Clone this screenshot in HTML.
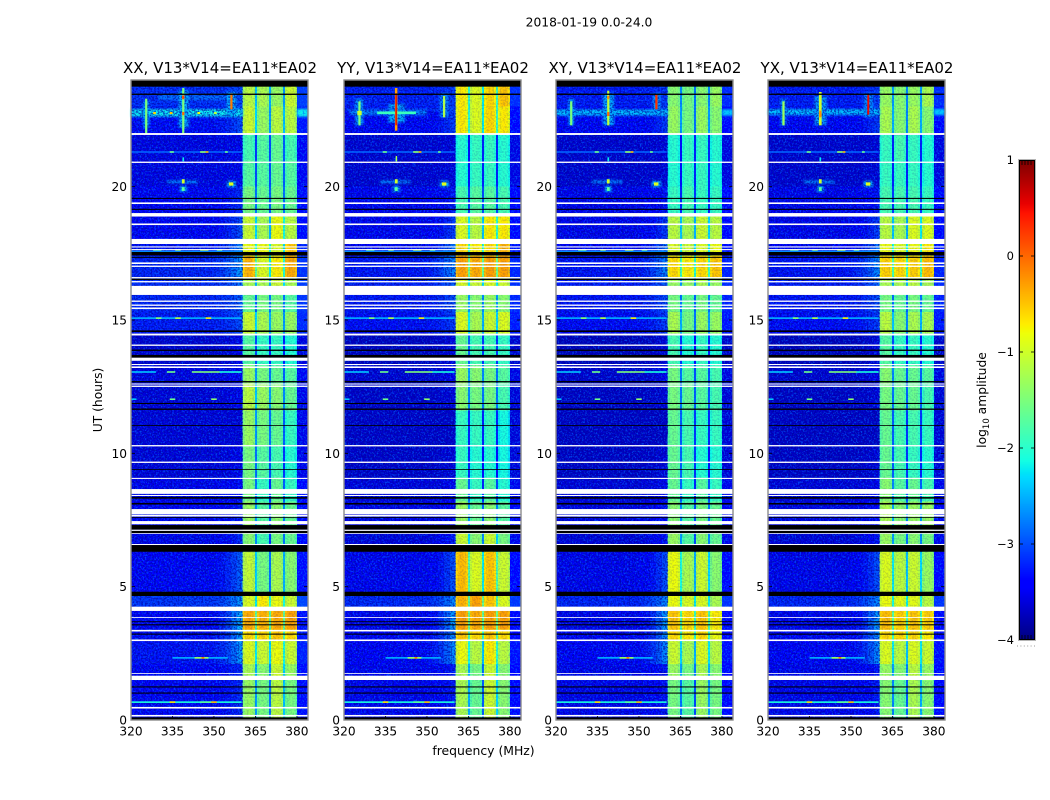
<!DOCTYPE html>
<html lang="en">
<head>
<meta charset="utf-8">
<title>2018-01-19 waterfall</title>
<style>
html,body{margin:0;padding:0;background:#fff;}
#chart{display:block;width:1050px;height:800px;font-family:"DejaVu Sans","Liberation Sans",sans-serif;fill:#000;}
</style>
</head>
<body>
<svg id="chart" xmlns="http://www.w3.org/2000/svg" width="1050" height="800" viewBox="0 0 1050 800">
  <defs>
    <filter id="speck-light" x="0" y="0" width="100%" height="100%" color-interpolation-filters="sRGB">
      <feTurbulence type="fractalNoise" baseFrequency="0.62 0.55" numOctaves="2" seed="7"/>
      <feColorMatrix type="matrix" values="0 0 0 0 0  0 0 0 0 0.42  0 0 0 0 1  7 0 0 0 -3.6"/>
    </filter>
    <filter id="speck-dark" x="0" y="0" width="100%" height="100%" color-interpolation-filters="sRGB">
      <feTurbulence type="fractalNoise" baseFrequency="0.55 0.6" numOctaves="2" seed="23"/>
      <feColorMatrix type="matrix" values="0 0 0 0 0  0 0 0 0 0  0 0 0 0 0.62  7 0 0 0 -3.3"/>
    </filter>
    <filter id="soft-halo" x="-5%" y="-5%" width="110%" height="110%">
      <feGaussianBlur stdDeviation="1.1"/>
    </filter>
  </defs>
  <text x="589" y="26.500" font-size="12.300" text-anchor="middle">2018-01-19 0.0-24.0</text>
  <g id="panels"></g>
  <text x="483.500" y="755" font-size="12.400" text-anchor="middle">frequency (MHz)</text>
  <text transform="translate(102,400) rotate(-90)" font-size="12.300" text-anchor="middle">UT (hours)</text>
  <g id="colorbar"></g>
  <text transform="translate(986,400) rotate(-90)" font-size="12.300" text-anchor="middle">log<tspan font-size="8.500" dy="3">10</tspan><tspan dy="-3"> amplitude</tspan></text>
</svg>
<script>
/* ---------- data ---------- */
const polarizations = ['XX', 'YY', 'XY', 'YX'];
const panelTitle = ', V13*V14=EA11*EA02';
const freqTicks = [320, 335, 350, 365, 380];
const utTicks = [0, 5, 10, 15, 20];
const colorTicks = [1, 0, -1, -2, -3, -4];

/* UT bin edges (hours) */
const utEdges = [0,1.5,2.1,3,3.4,4.1,4.8,6.3,7.1,8.2,9.1,10.3,11.6,12.6,13.3,14.5,15.3,16,16.6,17.4,18,19,20,21,22,23,24];

/* log10 amplitude of the off-band background per UT bin */
const backgroundLevel = [-3.4,-3.4,-3.3,-3.35,-3.4,-3.1,-3.4,-3.5,-3.45,-3.5,-3.6,-3.6,-3.6,-3.55,-3.65,-3.25,-3.2,-3.15,-3.2,-3.3,-3.4,-3.4,-3.55,-3.55,-3.35,-3.15];
/* log10 amplitude at the low edge of the band per UT bin */
const rampLevel = [-3.2,-3.2,-2.6,-2.6,-2.5,-2.6,-2.9,-3.2,-3.3,-3.4,-3.5,-3.6,-3.5,-3.4,-3.5,-3,-2.9,-2.8,-2.6,-2.7,-3,-3.2,-3.5,-3.5,-3,-3];
const rampProfile = [0.08, 0.2, 0.4, 0.68, 1];
const polBackgroundOffset = [0, -0.08, -0.1, -0.1];

/* 4 sub-band levels per UT bin */
const bandXX = [[-1.3,-1.5,-1.1,-1.5],[-1.2,-1.4,-1,-1.3],[-.9,-1,-.8,-1],[-.6,-.6,-.5,-.6],[-.35,-.4,-.35,-.3],[-.9,-.7,-.8,-1],[-1.05,-1.5,-1.2,-1.4],[-1.4,-1.8,-1.5,-1.6],[-1.3,-1.7,-1.4,-1.6],[-1.5,-1.9,-1.6,-1.9],[-1.5,-1.7,-1.8,-2],[-1.3,-1.5,-1.6,-1.9],[-1.1,-1.3,-1.4,-1.6],[-1.3,-1.5,-1.6,-1.7],[-1.7,-1.9,-1.9,-2],[-1,-1.2,-1.3,-1.3],[-1.6,-1.5,-1.5,-1.7],[-1.2,-1.2,-1,-1.2],[-.4,-.9,-.7,-.35],[-.8,-.8,-.9,-.5],[-1,-1.2,-.8,-1.1],[-1.5,-1.6,-1.5,-1.6],[-1.7,-1.7,-1.6,-1.7],[-1.8,-1.7,-1.6,-1.8],[-1,-1.3,-1.1,-1.1],[-1.1,-1.2,-1.3,-1]];
const bandYY = [[-1.2,-1.6,-1,-1.4],[-1.2,-1.5,-1,-1.4],[-.8,-1.1,-.7,-1.1],[-.5,-.6,-.5,-.6],[-.3,-.35,-.3,-.3],[-.4,-.3,-.5,-.9],[-.45,-.9,-.5,-1],[-1,-1.4,-1,-1.5],[-1.3,-1.6,-1.4,-1.7],[-1.6,-1.9,-1.7,-2],[-1.9,-2,-2,-2.1],[-1.9,-1.9,-1.9,-2.1],[-1.4,-1.5,-1.5,-1.8],[-1.3,-1.4,-1.5,-1.7],[-1.6,-1.8,-1.8,-1.9],[-.9,-1.2,-1,-.9],[-1.3,-1.4,-1.3,-1.4],[-.9,-1,-.9,-1],[-.3,-.35,-.3,-.3],[-.6,-.7,-.6,-.4],[-.9,-1.1,-.7,-.7],[-1.8,-1.7,-1.7,-1.8],[-2,-1.9,-1.9,-2],[-2,-1.9,-1.9,-2],[-.7,-.9,-.6,-.7],[-.7,-.9,-.6,-.5]];
const bandXY = [[-1.5,-1.7,-1.3,-1.5],[-1.3,-1.5,-1.2,-1.4],[-1,-1.2,-.9,-1.1],[-.6,-.7,-.6,-.8],[-.5,-.6,-.5,-.7],[-.8,-.9,-.9,-1.2],[-.8,-1.2,-1,-1.4],[-1.3,-1.7,-1.4,-1.6],[-1.4,-1.7,-1.5,-1.6],[-1.6,-1.9,-1.7,-1.9],[-1.6,-1.8,-2,-2],[-1.6,-1.8,-1.9,-1.9],[-1.5,-1.6,-1.7,-1.8],[-1.5,-1.7,-1.7,-1.8],[-1.8,-2,-1.9,-2],[-1.2,-1.5,-1.3,-1.3],[-1.5,-1.6,-1.5,-1.6],[-1.3,-1.3,-1.2,-1.3],[-.6,-.7,-.6,-.5],[-.9,-1,-.9,-.8],[-1.1,-1.2,-1,-1.1],[-1.9,-1.8,-1.9,-1.9],[-2,-1.9,-1.9,-2],[-2,-1.9,-1.9,-2],[-1.3,-1.5,-1.3,-1.4],[-1.4,-1.5,-1.4,-1.3]];
const bandYX = [[-1.4,-1.6,-1.2,-1.4],[-1.3,-1.4,-1.1,-1.3],[-.9,-1.1,-.9,-1],[-.6,-.6,-.6,-.7],[-.45,-.55,-.5,-.55],[-.8,-.85,-.85,-1.1],[-.9,-1.1,-1,-1.3],[-1.3,-1.5,-1.4,-1.5],[-1.2,-1.4,-1.3,-1.3],[-1.4,-1.7,-1.6,-1.8],[-1.6,-1.8,-1.9,-2],[-1.6,-1.8,-1.8,-1.9],[-1.5,-1.6,-1.6,-1.8],[-1.4,-1.6,-1.6,-1.7],[-1.7,-1.9,-1.9,-2],[-1.1,-1.4,-1.2,-1.2],[-1.5,-1.6,-1.5,-1.6],[-1.2,-1.2,-1.1,-1.2],[-.55,-.6,-.55,-.45],[-.8,-.9,-.8,-.7],[-1.1,-1.2,-.9,-.9],[-1.8,-1.8,-1.8,-1.9],[-1.9,-1.9,-1.9,-2],[-1.9,-1.8,-1.9,-2],[-1.2,-1.4,-1.2,-1.4],[-1.3,-1.4,-1.3,-1.2]];

/* gain of each 0.726 MHz channel inside the band (3 notches between 4 sub-bands) */
const channelGain = [-.18,-.04,0,0,-.03,-.15,-1.3, -.15,-.03,0,0,-.03,-.15,-1.3, -.15,-.03,0,0,-.03,-.15,-1.3, -.15,-.03,0,0,-.03,-.15];

/* flagged time ranges [utStart, utEnd] */
const whiteFlags = [[21.94,22.01],[20.89,20.94],[19.35,19.41],[18.88,19.01],[18.56,18.62],[17.85,18.04],[17.72,17.76],[17.62,17.66],[17.1,17.16],[16.99,17.04],[16.56,16.61],[16.41,16.46],[15.94,16.28],[15.68,15.73],[15.53,15.58],[15.41,15.47],[14.42,14.49],[14.03,14.08],[13.47,13.59],[13.31,13.35],[13.2,13.26],[12.58,12.62],[12.49,12.54],[10.26,10.31],[9.64,9.69],[9.04,9.08],[8.48,8.66],[8.4,8.44],[7.71,7.91],[7.63,7.69],[7.34,7.46],[7.09,7.14],[6.98,7.01],[6.56,6.6],[4.09,4.25],[3.83,3.86],[3.32,3.38],[2.96,3.02],[1.73,1.76],[1.5,1.66],[0.43,0.49],[0.13,0.19]];
const blackFlags = [[23.75,24],[23.44,23.49],[19.54,19.58],[19.13,19.17],[17.42,17.55],[17.33,17.37],[16.5,16.55],[14.55,14.61],[13.84,13.89],[13.59,13.69],[12.66,12.71],[11.85,11.89],[11.63,11.68],[11.03,11.06],[9.38,9.41],[8.3,8.36],[8.08,8.14],[7.58,7.61],[7.14,7.31],[7.01,7.09],[6.31,6.56],[4.65,4.81],[3.67,3.7],[3.55,3.59],[3.2,3.24],[1.22,1.26],[0.99,1.03],[0,0.1]];

/* interference common to all panels [fStart, fEnd, utStart, utEnd, level] */
const rfiShared = [
 [320,360,21.27,21.33,-2.9],[334,335.5,21.27,21.33,-1.6],[345,347,21.27,21.33,-1.4],[347,348,21.27,21.33,-0.4],[354,355,21.27,21.33,-1.6],
 [320,360,17.47,17.6,-2.7],[328,331,17.6,17.66,-1.6],[336,338,17.6,17.66,-1.3],[345,348,17.6,17.66,-1.1],[351,353,17.6,17.66,-1.5],
 [320,360,15.04,15.1,-2.5],[336,338,15.04,15.1,-1.1],[347,349,15.04,15.1,-.7],[329,331,15.04,15.1,-1.4],
 [320,329,13.02,13.08,-2.4],[333,336,13.02,13.08,-1.6],[342,352,13.02,13.08,-1.5],[352,360,13.02,13.08,-2.1],
 [334,336,12,12.06,-1.6],[349,351,12,12.06,-1.4],[320,322,12,12.06,-2.4],
 [335,355,2.3,2.36,-2.5],[343,348,2.3,2.36,-1.3],[345.5,346.5,2.3,2.36,0],
 [320,360,0.64,0.7,-2.1],[334,336,0.64,0.7,-.6],[349,351,0.64,0.7,-.4],[345,349,0.64,0.7,-1.7]
];
/* soft blobs common to all panels */
const haloShared = [
 [333,344,20.12,20.24,-2.7],[337.6,340.2,19.8,20.02,-2.5],[354.6,358,19.98,20.22,-2.5]
];
const coreShared = [
 [338.4,339.4,20.12,20.28,-1.0],[338.4,339.4,19.84,19.98,-1.7],[338.6,339.2,20.95,21.1,-2.2],[355.4,357,20.04,20.16,-.9]
];

/* polarisation specific soft halos */
const haloXX = [[320,360.4,22.62,22.92,-2.2],[380,384,22.62,22.92,-2.2],[330,356,23.25,23.45,-2.8],[324.4,326.6,22.2,23.2,-2.6],[337.2,340.8,22.2,23.6,-2.5],[354.6,358,22.7,23.55,-2.5]];
const haloYY = [[322,350,22.68,22.86,-2.7],[336,342,22.4,23.1,-2.5],[324,327,22.3,23.3,-2.6],[354.6,357.8,22.6,23.5,-2.7],[320,360,22.88,22.94,-2.9]];
const haloXY = [[320,360.4,22.66,22.9,-2.4],[380,384,22.66,22.9,-2.4],[324.4,326.6,22.3,23.3,-2.6],[337,341,22.3,23.5,-2.5],[355,357.8,22.8,23.5,-2.6]];
const haloYX = [[320,360.4,22.68,22.92,-2.4],[380,384,22.68,22.92,-2.4],[324.4,326.6,22.3,23.3,-2.7],[336.8,341.2,22.3,23.4,-2.6],[354.8,358,22.6,23.5,-2.6]];

/* polarisation specific narrow spike cores */
const rfiXX = [
 [325.1,325.9,22,23.3,-1.5],[338.5,339.3,22,23.7,-1.5],[338.5,339.3,23.28,23.42,0.2],[338.5,339.3,22.68,22.8,0],
 [355.9,356.7,22.9,23.5,-.1],[328,329,22.72,22.8,-.6],[334,335,22.72,22.8,-.5],[344,345,22.72,22.8,-.8],[350,351,22.72,22.8,-1.1]
];
const rfiYY = [
 [332,346,22.72,22.82,-1.9],[338.4,339.3,22.1,23.7,-.3],[338.6,339.1,22.3,23.5,.6],[325.2,326,22.3,23.2,-1.5],[324.8,326.4,22.68,22.84,-1],
 [355.8,356.6,22.6,23.4,-1.2],[338.7,339.2,20.95,21.15,-1.2]
];
const rfiXY = [
 [325.1,325.9,22.3,23.2,-1.5],[338.5,339.3,22.3,23.6,-1.1],[338.5,339.3,22.65,22.8,0],[338.5,339.3,23.28,23.4,-.2],[355.9,356.7,22.9,23.45,.3]
];
const rfiYX = [
 [325.2,326,22.3,23.2,-1.3],[338.4,339.4,22.3,23.55,-1],[338.5,339.3,22.6,22.85,-.2],[355.9,356.6,22.7,23.45,.5]
];

/* ---------- layout and scales ---------- */
const NS = 'http://www.w3.org/2000/svg';
const panelLeft = [131, 344, 556, 768];
const panelWidth = 177, plotTop = 80, plotBottom = 720;
const freqMin = 320, freqMax = 384, bandStart = 360.4, channelWidth = 0.726;
const utMax = 24, colorMin = -4, colorMax = 1;
const cbLeft = 1019, cbWidth = 16, cbTop = 160, cbBottom = 640;

function xScale(p, f) { return panelLeft[p] + (f - freqMin) / (freqMax - freqMin) * panelWidth; }
function yScale(u) { return plotBottom - u / utMax * (plotBottom - plotTop); }
function colorScale(v) { return cbBottom - (v - colorMin) / (colorMax - colorMin) * (cbBottom - cbTop); }

function jetChannel(t, pts) {
  for (let i = 1; i < pts.length; i++) {
    if (t <= pts[i][0]) {
      const a = pts[i - 1], b = pts[i];
      return a[1] + (b[1] - a[1]) * (t - a[0]) / (b[0] - a[0]);
    }
  }
  return pts[pts.length - 1][1];
}
function jet(level) {
  const t = Math.max(0, Math.min(1, (level - colorMin) / (colorMax - colorMin)));
  const r = jetChannel(t, [[0,0],[.35,0],[.66,1],[.89,1],[1,.5]]);
  const g = jetChannel(t, [[0,0],[.125,0],[.375,1],[.64,1],[.91,0],[1,0]]);
  const b = jetChannel(t, [[0,.5],[.11,1],[.34,1],[.65,0],[1,0]]);
  return 'rgb(' + Math.round(r * 255) + ',' + Math.round(g * 255) + ',' + Math.round(b * 255) + ')';
}
function makeRect(parent, x, y, w, h, fill) {
  const el = document.createElementNS(NS, 'rect');
  el.setAttribute('x', x.toFixed(2));
  el.setAttribute('y', y.toFixed(2));
  el.setAttribute('width', Math.max(w, 0).toFixed(2));
  el.setAttribute('height', Math.max(h, 0).toFixed(2));
  el.setAttribute('fill', fill);
  parent.appendChild(el);
  return el;
}
function makeText(parent, x, y, str, size, anchor) {
  const el = document.createElementNS(NS, 'text');
  el.setAttribute('x', x);
  el.setAttribute('y', y);
  el.setAttribute('font-size', size);
  el.setAttribute('text-anchor', anchor);
  el.textContent = str;
  parent.appendChild(el);
  return el;
}
function makeLine(parent, x1, y1, x2, y2, stroke, width) {
  const el = document.createElementNS(NS, 'line');
  el.setAttribute('x1', x1);
  el.setAttribute('y1', y1);
  el.setAttribute('x2', x2);
  el.setAttribute('y2', y2);
  el.setAttribute('stroke', stroke);
  el.setAttribute('stroke-width', width);
  parent.appendChild(el);
  return el;
}

/* ---------- panels ---------- */
const panelsRoot = document.getElementById('panels');
const bandByPol = [bandXX, bandYY, bandXY, bandYX];
const rfiByPol = [rfiXX, rfiYY, rfiXY, rfiYX];
const haloByPol = [haloXX, haloYY, haloXY, haloYX];

polarizations.forEach(function (pol, p) {
  const g = document.createElementNS(NS, 'g');
  
  
  panelsRoot.appendChild(g);

  const title = makeText(g, panelLeft[p] + panelWidth / 2 + 0.5, 73, pol + panelTitle, 15, 'middle');
  
  

  const heat = document.createElementNS(NS, 'g');
  heat.setAttribute('shape-rendering', 'crispEdges');
  
  
  g.appendChild(heat);

  const rampStep = (bandStart - 350) / rampProfile.length;
  for (let r = 0; r < utEdges.length - 1; r++) {
    const y = yScale(utEdges[r + 1]);
    const h = yScale(utEdges[r]) - y;
    const bg = backgroundLevel[r] + polBackgroundOffset[p];

    const leftCell = makeRect(heat, xScale(p, freqMin), y, xScale(p, 350) - xScale(p, freqMin), h, jet(bg));
    
    

    for (let k = 0; k < rampProfile.length; k++) {
      const f0 = 350 + k * rampStep;
      const level = bg + (rampLevel[r] - backgroundLevel[r]) * rampProfile[k];
      const rampCell = makeRect(heat, xScale(p, f0), y, xScale(p, f0 + rampStep) - xScale(p, f0), h, jet(level));
      
      
    }

    for (let c = 0; c < channelGain.length; c++) {
      const f0 = bandStart + c * channelWidth;
      const seg = Math.floor(c / 7);
      const level = bandByPol[p][r][seg] + channelGain[c];
      const bandCell = makeRect(heat, xScale(p, f0), y, xScale(p, f0 + channelWidth) - xScale(p, f0), h, jet(level));
      
      
    }

    const fEnd = bandStart + channelGain.length * channelWidth;
    const rightCell = makeRect(heat, xScale(p, fEnd), y, xScale(p, freqMax) - xScale(p, fEnd), h, jet(bg + 0.05));
    
    
  }

  /* soft interference halos lie under the noise */
  const halos = document.createElementNS(NS, 'g');
  halos.setAttribute('filter', 'url(#soft-halo)');
  
  
  g.appendChild(halos);
  haloShared.concat(haloByPol[p]).forEach(function (m) {
    const x0 = xScale(p, m[0]), x1 = xScale(p, m[1]);
    const y0 = yScale(m[3]), y1 = yScale(m[2]);
    const el = makeRect(halos, x0, y0, x1 - x0, y1 - y0, jet(m[4]));
    
    
  });

  /* speckle texture */
  const bgWidth = xScale(p, bandStart) - panelLeft[p];
  const fullHeight = plotBottom - plotTop;
  const lightA = makeRect(g, panelLeft[p], plotTop, bgWidth, fullHeight, '#000');
  lightA.setAttribute('filter', 'url(#speck-light)');
  lightA.setAttribute('opacity', '0.6');
  
  
  const darkA = makeRect(g, panelLeft[p], plotTop, bgWidth, fullHeight, '#000');
  darkA.setAttribute('filter', 'url(#speck-dark)');
  darkA.setAttribute('opacity', '0.6');
  
  
  const rightX = xScale(p, 380);
  const lightB = makeRect(g, rightX, plotTop, panelLeft[p] + panelWidth - rightX, fullHeight, '#000');
  lightB.setAttribute('filter', 'url(#speck-light)');
  lightB.setAttribute('opacity', '0.6');
  
  
  const bandStartX = xScale(p, bandStart);
  const bandMottle = makeRect(g, bandStartX, plotTop, rightX - bandStartX, fullHeight, '#000');
  bandMottle.setAttribute('filter', 'url(#speck-dark)');
  bandMottle.setAttribute('opacity', '0.14');
  
  

  /* narrow interference */
  rfiShared.concat(coreShared, rfiByPol[p]).forEach(function (m) {
    const x0 = xScale(p, m[0]), x1 = xScale(p, m[1]);
    const y0 = yScale(m[3]), y1 = yScale(m[2]);
    const el = makeRect(g, x0, y0, x1 - x0, y1 - y0, jet(m[4]));
    
    
  });

  /* flagged rows */
  whiteFlags.forEach(function (m) {
    const y0 = yScale(m[1]), y1 = yScale(m[0]);
    const el = makeRect(g, panelLeft[p], y0, panelWidth, y1 - y0, '#fff');
    
    
  });
  blackFlags.forEach(function (m) {
    const y0 = yScale(m[1]), y1 = yScale(m[0]);
    const el = makeRect(g, panelLeft[p], y0, panelWidth, y1 - y0, '#000');
    
    
  });

  /* ticks and labels */
  freqTicks.forEach(function (f) {
    const x = xScale(p, f);
    const b = makeLine(g, x, plotBottom, x, plotBottom - 4, '#000', 0.8);
    
    
    const t = makeLine(g, x, plotTop, x, plotTop + 4, '#000', 0.8);
    
    
    const lab = makeText(g, x, 735.5, String(f), 12.2, 'middle');
    
    
  });
  utTicks.forEach(function (u) {
    const y = yScale(u);
    const l = makeLine(g, panelLeft[p], y, panelLeft[p] + 4, y, '#000', 0.8);
    
    
    const r = makeLine(g, panelLeft[p] + panelWidth, y, panelLeft[p] + panelWidth - 4, y, '#000', 0.8);
    
    
    const lab = makeText(g, panelLeft[p] - 4, y + 4.5, String(u), 12.2, 'end');
    
    
  });

  const spine = makeRect(g, panelLeft[p], plotTop, panelWidth, fullHeight, 'none');
  spine.setAttribute('stroke', '#8c8c8c');
  spine.setAttribute('stroke-width', '1.4');
  
  
});

/* ---------- colour bar ---------- */
const cb = document.getElementById('colorbar');
const cbSteps = [];
for (let i = 0; i < 240; i++) cbSteps.push(i);
cbSteps.forEach(function (i) {
  const v0 = colorMin + (colorMax - colorMin) * i / cbSteps.length;
  const v1 = colorMin + (colorMax - colorMin) * (i + 1) / cbSteps.length;
  const y = colorScale(v1);
  const el = makeRect(cb, cbLeft, y, cbWidth, colorScale(v0) - y + 0.4, jet((v0 + v1) / 2));
  
  
});
const cbFrameHalo = makeRect(cb, cbLeft - 0.5, cbTop - 0.5, cbWidth + 1, cbBottom - cbTop + 1, 'none');
cbFrameHalo.setAttribute('stroke', '#b5b5b5');
cbFrameHalo.setAttribute('stroke-width', '1');


const cbFrameOuter = makeRect(cb, cbLeft + 0.5, cbTop + 0.5, cbWidth - 1, cbBottom - cbTop - 1, 'none');
cbFrameOuter.setAttribute('stroke', '#000');
cbFrameOuter.setAttribute('stroke-width', '1');


colorTicks.forEach(function (v) {
  const y = colorScale(v);
  if (v !== colorMax && v !== colorMin) {
    const a = makeLine(cb, cbLeft, y, cbLeft + 4, y, '#000', 0.8);
    
    
    const b = makeLine(cb, cbLeft + cbWidth, y, cbLeft + cbWidth - 4, y, '#000', 0.8);
    
    
  }
  const label = (v < 0 ? '\u2212' + Math.abs(v) : String(v));
  const lab = makeText(cb, cbLeft - 5, y + 4, label, 11.5, 'end');
  
  
});
const cbMinorOffsets = [3, 6, 9, 12];
cbMinorOffsets.forEach(function (d) {
  const top = makeLine(cb, cbLeft + d, cbTop, cbLeft + d, cbTop + 5, '#000', 0.8);
  
  
  const bot = makeLine(cb, cbLeft + d, cbBottom, cbLeft + d, cbBottom - 5, '#000', 0.8);
  
  
});
const cbDots = makeLine(cb, 1017, 646, 1035, 646, '#999', 1);
cbDots.setAttribute('stroke-dasharray', '1 2.4');


</script>
</body>
</html>
